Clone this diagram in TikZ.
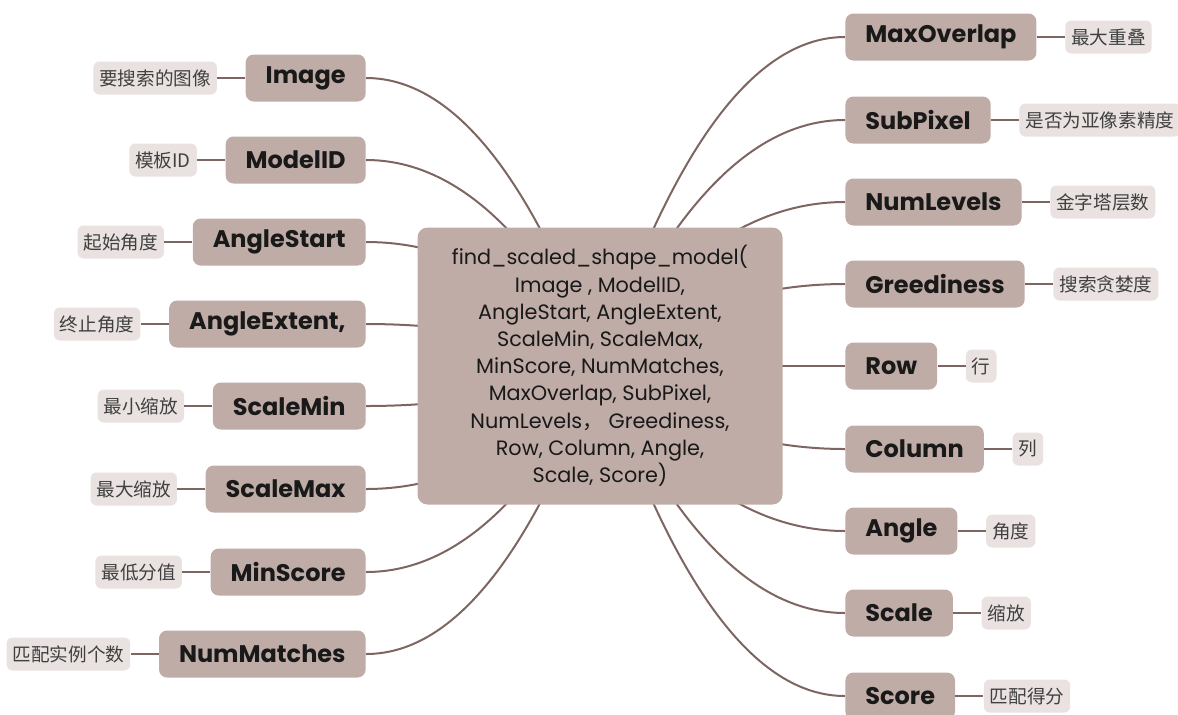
\documentclass[tikz,border=0pt]{standalone}
\usepackage{fontspec}
\setmainfont{Poppins}
\newfontfamily\cjk{Noto Sans CJK SC}
\usetikzlibrary{positioning, calc, backgrounds}
\definecolor{boxfill}{RGB}{191,172,167}
\definecolor{tagfill}{RGB}{233,226,225}
\definecolor{linecol}{RGB}{125,102,97}
\tikzset{
    topic/.style={fill=boxfill, rounded corners=4pt, minimum height=23.5pt, inner xsep=10pt,
        font=\fontsize{12}{14}\selectfont\bfseries, text=black!90},
    tag/.style={fill=tagfill, rounded corners=3pt, minimum height=16.5pt, inner xsep=3pt,
        font=\cjk\fontsize{9.3}{11}\selectfont, text=black!75},
    branch/.style={draw=linecol, line width=1pt,
        to path={let \p1=(\tikztostart), \p2=(\tikztotarget) in
            .. controls ({\x1+0.3*(\x2-\x1)},{\y1+0.667*(\y2-\y1)}) and ({\x2+0.367*(\x1-\x2)},\y2) .. (\tikztotarget)}},
    twig/.style={draw=linecol, line width=1pt}
}
\begin{document}
\begin{tikzpicture}[x=0.5pt, y=-0.5pt, node distance=14pt]
    \useasboundingbox (0,0) rectangle (1178,714);

    % central topic
    \node[fill=boxfill, rounded corners=5pt, minimum width=182.5pt, minimum height=138.5pt,
          align=center, font=\fontsize{10.4}{13.6}\selectfont, text=black!90] (ctr) at (600,366)
        {find\_scaled\_shape\_model(\\Image , ModelID,\\AngleStart, AngleExtent,\\ScaleMin, ScaleMax,\\
         MinScore, NumMatches,\\MaxOverlap, SubPixel,\\NumLevels{\cjk ，} Greediness,\\
         Row, Column, Angle,\\Scale, Score)};

    % left side
    \node[topic, anchor=east] (img) at (366,78) {Image};
    \node[tag, left=of img] (imgt) {要搜索的图像};
    \node[topic, anchor=east] (mid) at (366,160) {ModelID};
    \node[tag, left=of mid] (midt) {模板ID};
    \node[topic, anchor=east] (ast) at (366,242) {AngleStart};
    \node[tag, left=of ast] (astt) {起始角度};
    \node[topic, anchor=east] (aext) at (366,324) {AngleExtent,};
    \node[tag, left=of aext] (aextt) {终止角度};
    \node[topic, anchor=east] (smin) at (366,406) {ScaleMin};
    \node[tag, left=of smin] (smint) {最小缩放};
    \node[topic, anchor=east] (smax) at (366,489) {ScaleMax};
    \node[tag, left=of smax] (smaxt) {最大缩放};
    \node[topic, anchor=east] (msc) at (366,572) {MinScore};
    \node[tag, left=of msc] (msct) {最低分值};
    \node[topic, anchor=east] (nmat) at (366,654) {NumMatches};
    \node[tag, left=of nmat] (nmatt) {匹配实例个数};

    % right side
    \node[topic, anchor=west] (movl) at (845,37) {MaxOverlap};
    \node[tag, right=of movl] (movlt) {最大重叠};
    \node[topic, anchor=west] (subp) at (845,120) {SubPixel};
    \node[tag, right=of subp] (subpt) {是否为亚像素精度};
    \node[topic, anchor=west] (nlev) at (845,202) {NumLevels};
    \node[tag, right=of nlev] (nlevt) {金字塔层数};
    \node[topic, anchor=west] (greed) at (845,284) {Greediness};
    \node[tag, right=of greed] (greedt) {搜索贪婪度};
    \node[topic, anchor=west] (row) at (845,366) {Row};
    \node[tag, right=of row] (rowt) {行};
    \node[topic, anchor=west] (col) at (845,449) {Column};
    \node[tag, right=of col] (colt) {列};
    \node[topic, anchor=west] (ang) at (845,531) {Angle};
    \node[tag, right=of ang] (angt) {角度};
    \node[topic, anchor=west] (scl) at (845,613) {Scale};
    \node[tag, right=of scl] (sclt) {缩放};
    \node[topic, anchor=west] (scr) at (845,696) {Score};
    \node[tag, right=of scr] (scrt) {匹配得分};

    \begin{scope}[on background layer]
        \draw[branch] (ctr.center) to (img.east);
        \draw[branch] (ctr.center) to (mid.east);
        \draw[branch] (ctr.center) to (ast.east);
        \draw[branch] (ctr.center) to (aext.east);
        \draw[branch] (ctr.center) to (smin.east);
        \draw[branch] (ctr.center) to (smax.east);
        \draw[branch] (ctr.center) to (msc.east);
        \draw[branch] (ctr.center) to (nmat.east);
        \draw[branch] (ctr.center) to (movl.west);
        \draw[branch] (ctr.center) to (subp.west);
        \draw[branch] (ctr.center) to (nlev.west);
        \draw[branch] (ctr.center) to (greed.west);
        \draw[branch] (ctr.center) to (row.west);
        \draw[branch] (ctr.center) to (col.west);
        \draw[branch] (ctr.center) to (ang.west);
        \draw[branch] (ctr.center) to (scl.west);
        \draw[branch] (ctr.center) to (scr.west);
    \end{scope}

    \draw[twig] (img) -- (imgt);
    \draw[twig] (mid) -- (midt);
    \draw[twig] (ast) -- (astt);
    \draw[twig] (aext) -- (aextt);
    \draw[twig] (smin) -- (smint);
    \draw[twig] (smax) -- (smaxt);
    \draw[twig] (msc) -- (msct);
    \draw[twig] (nmat) -- (nmatt);
    \draw[twig] (movl) -- (movlt);
    \draw[twig] (subp) -- (subpt);
    \draw[twig] (nlev) -- (nlevt);
    \draw[twig] (greed) -- (greedt);
    \draw[twig] (row) -- (rowt);
    \draw[twig] (col) -- (colt);
    \draw[twig] (ang) -- (angt);
    \draw[twig] (scl) -- (sclt);
    \draw[twig] (scr) -- (scrt);
\end{tikzpicture}
\end{document}
